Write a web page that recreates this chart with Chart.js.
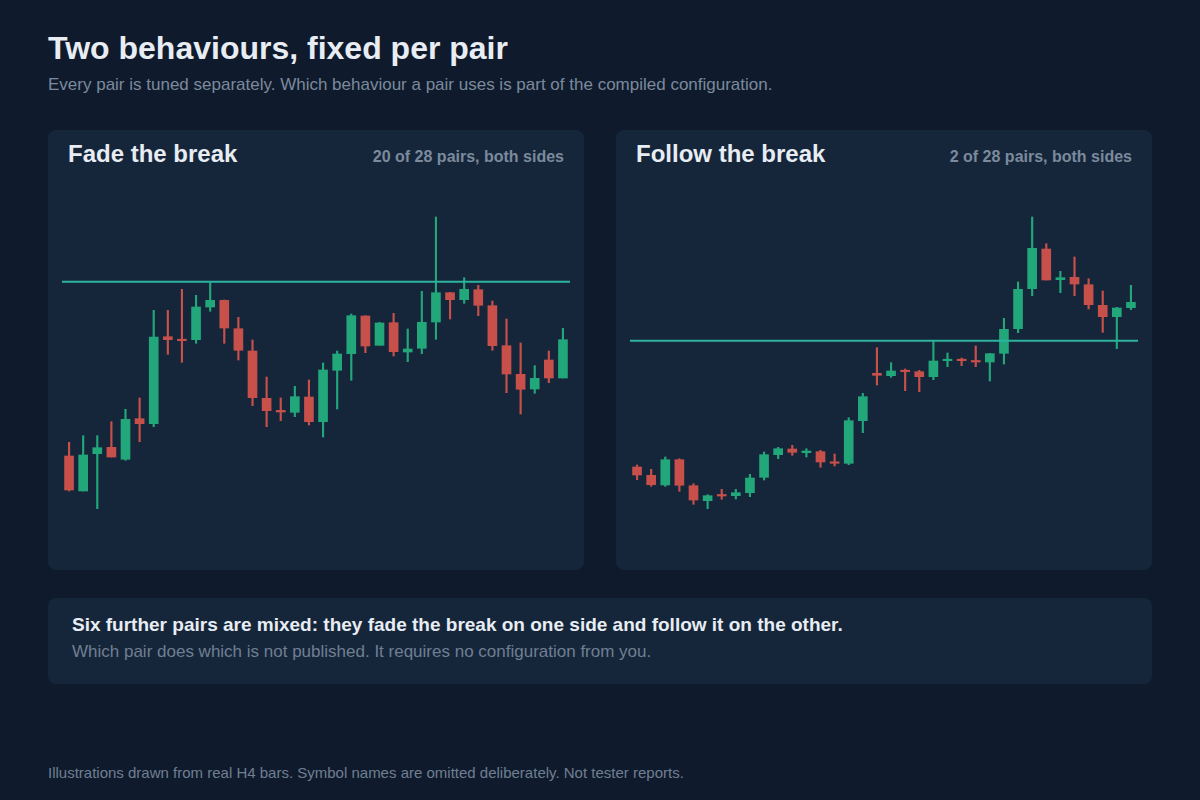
<!DOCTYPE html>
<html>
<head>
<meta charset="utf-8">
<script src="https://cdn.jsdelivr.net/npm/chart.js@4.4.1/dist/chart.umd.min.js"></script>
<style>
  * { box-sizing: border-box; margin: 0; padding: 0; }
  body {
    width: 1200px; height: 800px; overflow: hidden;
    background: #0f1b2c;
    font-family: "Liberation Sans", Arial, Helvetica, sans-serif;
    position: relative;
    line-height: 1;
  }
  h1 { position: absolute; left: 48px; top: 32px; font-size: 32px; font-weight: bold; color: #e8edf4; white-space: nowrap; }
  .sub { position: absolute; left: 48px; top: 75.5px; font-size: 17px; color: #7b8a9d; white-space: nowrap; }
  .panel {
    position: absolute; top: 130px; width: 536px; height: 440px;
    background: #16263a; border-radius: 8px;
  }
  .panel h2 { position: absolute; left: 20px; top: 11.5px; font-size: 24px; font-weight: bold; color: #e8edf4; white-space: nowrap; }
  .panel .count { position: absolute; right: 20px; top: 19px; font-size: 16px; font-weight: bold; color: #7b8a9d; white-space: nowrap; }
  .chart-box { position: absolute; left: 14px; top: 50px; width: 508px; height: 380px; }
  .note {
    position: absolute; left: 48px; top: 598px; width: 1104px; height: 86px;
    background: #16263a; border-radius: 8px;
  }
  .note .head { position: absolute; left: 24px; top: 16.5px; font-size: 19px; font-weight: bold; color: #e8edf4; white-space: nowrap; }
  .note .body { position: absolute; left: 24px; top: 45px; font-size: 17px; color: #6f7f93; white-space: nowrap; }
  .foot { position: absolute; left: 48px; top: 765px; font-size: 15px; color: #6f7f93; white-space: nowrap; }
</style>
</head>
<body>
<h1>Two behaviours, fixed per pair</h1>
<div class="sub">Every pair is tuned separately. Which behaviour a pair uses is part of the compiled configuration.</div>

<div class="panel" style="left:48px">
  <h2>Fade the break</h2>
  <div class="count">20 of 28 pairs, both sides</div>
  <div class="chart-box"><canvas id="fadeChart"></canvas></div>
</div>
<div class="panel" style="left:616px">
  <h2>Follow the break</h2>
  <div class="count">2 of 28 pairs, both sides</div>
  <div class="chart-box"><canvas id="followChart"></canvas></div>
</div>

<div class="note">
  <div class="head">Six further pairs are mixed: they fade the break on one side and follow it on the other.</div>
  <div class="body">Which pair does which is not published. It requires no configuration from you.</div>
</div>
<div class="foot">Illustrations drawn from real H4 bars. Symbol names are omitted deliberately. Not tester reports.</div>

<script>
// Fade the break - open, high, low, close per bar
const fadeOpen  = [104, 69, 106.3, 112.7, 100.7, 141.3, 136.3, 223.3, 220.3, 220.3, 253, 259.7, 231.3, 209, 161.7, 149.7, 147.7, 163,
                   138.3, 189.7, 206.3, 244, 214.7, 237.3, 208, 211.7, 238, 267.3, 260.3, 270.3, 254.3, 214.3, 185.7, 171, 200, 182];
const fadeHigh  = [117.7, 124.3, 124.3, 138.3, 150.7, 162, 249.7, 249.7, 270.7, 264.7, 277.3, 260, 242.7, 220, 183, 162, 173.7, 180,
                   197, 209, 246, 244.3, 237.7, 246.7, 231, 268.7, 343, 267.7, 282.3, 274.7, 259, 241, 217, 194.3, 209, 231.7];
const fadeLow   = [69, 69, 51.3, 103, 99.7, 118.3, 133.3, 205.7, 197.7, 216.7, 248.7, 216.7, 200, 154.3, 133.3, 139.3, 143.3, 135,
                   123, 151, 179.7, 207.3, 214.7, 204, 198.3, 206.3, 220.7, 241, 256.7, 244.3, 209.7, 167.3, 146, 166.7, 177.3, 182];
const fadeClose = [70, 105, 112.3, 103, 140.7, 136.3, 223, 220.3, 219.3, 253, 259.7, 232, 209.7, 162.3, 149.3, 148, 163.3, 138.3,
                   190, 206, 244.3, 214, 237, 208.3, 211, 237.7, 267.3, 260.3, 270.7, 254.7, 214.3, 186, 170.7, 181.7, 182, 220.3];
const fadeLevel = 278.3;

// Follow the break
const followOpen  = [93, 84.7, 75, 100.3, 74.3, 59.3, 65, 64.3, 67.3, 82.7, 105.3, 111, 107.3, 108.3, 97.7, 96.7, 139.3, 186.7,
                     184.3, 189.3, 188.3, 183.3, 199.3, 200.7, 199.3, 198, 206.7, 231.3, 271.3, 311, 280.3, 282.7, 275.3, 254.7, 243.3, 252.3];
const followHigh  = [95, 90.7, 103, 101.3, 76.3, 65.3, 70.7, 70.7, 85.7, 108, 112.7, 114.7, 111.3, 109.7, 106, 142.3, 166.7, 212.3,
                     197.3, 191, 189.7, 218.7, 207, 202, 214, 206.7, 241.7, 278, 343, 316.3, 288.7, 303, 281.3, 269, 252.7, 274.7];
const followLow   = [80.3, 73.7, 73.7, 68.7, 55.7, 51.3, 60.7, 61, 63.3, 80, 101.3, 104.7, 103, 92.7, 94, 95.3, 127.3, 175,
                     182.7, 169.3, 168.3, 180.3, 193.3, 194.3, 193.3, 179, 196, 227.3, 264.3, 280, 267.3, 264.3, 251, 227.7, 211.3, 250.3];
const followClose = [85, 75.3, 100.3, 74.7, 60, 64.3, 64, 67.3, 82, 105.3, 111.3, 107.7, 109, 98, 96.7, 139.3, 163.3, 184.7,
                     189, 188.3, 183.3, 199, 200.7, 199.3, 198, 206.3, 230.7, 270.7, 311.7, 280, 282.3, 276, 255.3, 243.3, 252, 257.7];
const followLevel = 219.3;

const UP = '#22a77b';
const DOWN = '#c8504a';
const LEVEL = '#2cb3a0';

const makeCandles = (id, open, high, low, close, level) => {
    const labels = open.map((_, i) => i + 1);
    const colors = open.map((o, i) => close[i] >= o ? UP : DOWN);
    new Chart(document.getElementById(id), {
        type: 'bar',
        data: {
            labels: labels,
            datasets: [
                {
                    // breakout level, full width of the plot
                    type: 'line',
                    xAxisID: 'lx',
                    data: [{ x: 0, y: level }, { x: 1, y: level }],
                    borderColor: LEVEL,
                    borderWidth: 2,
                    pointRadius: 0,
                    order: 0
                },
                {
                    data: labels.map((_, i) => [open[i], close[i]]),
                    backgroundColor: colors,
                    barThickness: 9,
                    minBarLength: 1.5,
                    grouped: false,
                    borderWidth: 0,
                    borderSkipped: false,
                    order: 1
                },
                {
                    data: labels.map((_, i) => [low[i], high[i]]),
                    backgroundColor: colors,
                    barThickness: 1.5,
                    grouped: false,
                    borderWidth: 0,
                    borderSkipped: false,
                    order: 2
                }
            ]
        },
        options: {
            responsive: true,
            maintainAspectRatio: false,
            animation: false,
            layout: { padding: 0 },
            plugins: { legend: { display: false }, tooltip: { enabled: false } },
            scales: {
                x: { display: false, offset: true },
                lx: { type: 'linear', display: false, offset: false, min: 0, max: 1 },
                y: { display: false, min: 0, max: 380 }
            }
        }
    });
};

makeCandles('fadeChart', fadeOpen, fadeHigh, fadeLow, fadeClose, fadeLevel);
makeCandles('followChart', followOpen, followHigh, followLow, followClose, followLevel);
</script>
</body>
</html>
